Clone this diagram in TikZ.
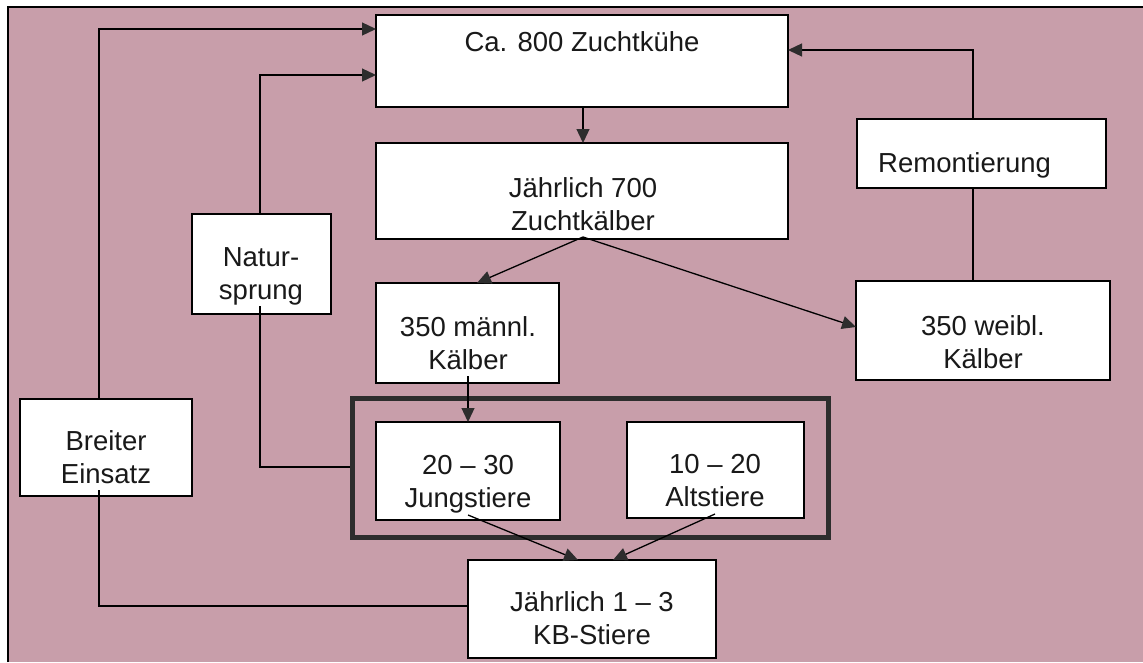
\documentclass[tikz,border=0pt]{standalone}
\usepackage{fontspec}
\setmainfont{Liberation Sans}
\usetikzlibrary{arrows.meta}
\definecolor{bgpink}{RGB}{200,158,170}
\definecolor{darkline}{RGB}{45,45,45}
\newcommand{\rbox}[5]{\node[box, minimum width={#4-#2}, minimum height={#5-#3}] (#1) at ({(#2+#4)/2},{(#3+#5)/2}) {};}
\begin{document}
\begin{tikzpicture}[x=1pt,y=-1pt,
  box/.style={draw=black, line width=1.3pt, fill=white, inner sep=0pt, outer sep=0pt},
  txt/.style={font=\fontsize{27.5}{33}\selectfont, align=center, inner sep=0pt, text=black!90},
  conn/.style={draw=black, line width=1.3pt},
  arr/.style={conn, -{Triangle[length=14pt,width=13pt,color=darkline]}},
  frame/.style={draw=darkline, line width=5pt}]
\useasboundingbox (0,0) rectangle (1143,662);
\fill[white] (0,0) rectangle (1143,662);
\fill[bgpink] (8,7) rectangle (1143,662);
\draw[line width=1.5pt] (8,662) -- (8,7) -- (1143,7);

% boxes
\rbox{kuehe}{376}{15}{788}{107}
\rbox{jaehr}{376}{143}{788}{239}
\rbox{remont}{857}{119}{1106}{188}
\rbox{natur}{192}{214}{331}{314}
\rbox{maennl}{376}{283}{559}{383}
\rbox{weibl}{856}{281}{1110}{380}
\node[frame, draw, minimum width=476, minimum height=139, inner sep=0pt] (grp) at (590,467.5) {};
\rbox{jung}{376}{422}{560}{520}
\rbox{alt}{627}{422}{804}{518}
\rbox{breit}{20}{399}{192}{496}
\rbox{kb}{468}{560}{716}{658}

% texts
\node[txt] (kuehe-t) at (582,42) {Ca. 800 Zuchtkühe};
\node[txt] (jaehr-t) at (583,204) {Jährlich 700\\Zuchtkälber};
\node[txt, anchor=west] (remont-t) at (878,165) {Remontierung};
\node[txt] (natur-t) at (261,276) {Natur-\\sprung};
\node[txt] (maennl-t) at (468,343) {350 männl.\\Kälber};
\node[txt] (weibl-t) at (983,342) {350 weibl.\\Kälber};
\node[txt] (jung-t) at (468,484) {20 -- 30\\Jungstiere};
\node[txt] (alt-t) at (715,481) {10 -- 20\\Altstiere};
\node[txt] (breit-t) at (106,457) {Breiter\\Einsatz};
\node[txt] (kb-t) at (592,618) {Jährlich 1 -- 3\\KB-Stiere};

% connectors
\draw[arr] (breit.north -| 99,0) |- (kuehe.west |- 0,29);
\draw[conn] (99,490) |- (kb.west |- 0,606);
\draw[arr] (natur.north -| 260,0) |- (kuehe.west |- 0,75);
\draw[conn] (260,306) |- (grp.west |- 0,467);
\draw[arr] (remont.north -| 973,0) |- (kuehe.east |- 0,50);
\draw[conn] (weibl.north -| 973,0) -- (remont.south -| 973,0);
\draw[arr] (kuehe.south -| 583,0) -- (jaehr.north -| 583,0);
\coordinate (jsplit) at (583,237);
\draw[arr] (jsplit) -- (maennl.north -| 477,0);
\draw[arr] (jsplit) -- (weibl.west |- 0,327);
\draw[arr] (468,376) -- (jung.north -| 468,0);
\draw[arr] (468,515) -- (kb.north -| 578,0);
\draw[arr] (715,514) -- (kb.north -| 613,0);
\end{tikzpicture}
\end{document}
